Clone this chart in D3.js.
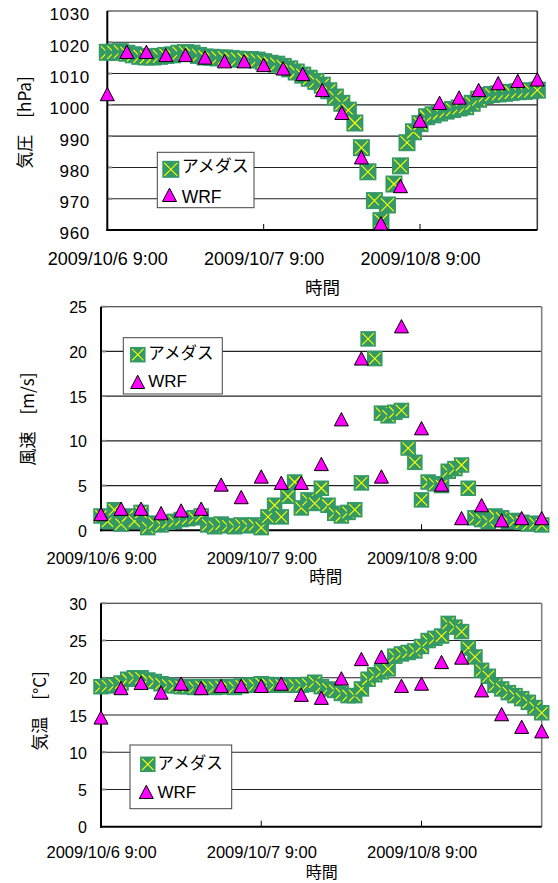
<!DOCTYPE html>
<html>
<head>
<meta charset="utf-8">
<script src="https://cdn.jsdelivr.net/npm/d3@7/dist/d3.min.js"></script>
<style>
body { margin:0; background:#fff; }
svg text { font-family:"Liberation Sans", Arial, sans-serif; fill:#000; }
svg text.jp { font-family:"Noto Sans CJK JP", sans-serif; }
</style>
</head>
<body>
<script>
// hours from 2009/10/6 9:00
var amedasHours = [0,1,2,3,4,5,6,7,8,9,10,11,12,13,14,15,16,17,18,19,20,21,22,23,24,25,26,27,28,29,30,31,32,33,
	34,35,36,37,38,39,40,41,42,43,44,45,46,47,48,49,50,51,52,53,54,55,56,57,58,59,60,61,62,63,64,65,66];
var wrfHours = [0,3,6,9,12,15,18,21,24,27,30,33,36,39,42,45,48,51,54,57,60,63,66];

var xTickHours = [0,24,48];
var xTickLabels = ['2009/10/6 9:00','2009/10/7 9:00','2009/10/8 9:00'];

var pressTicks = [960,970,980,990,1000,1010,1020,1030];
var windTicks = [0,5,10,15,20,25];
var tempTicks = [0,5,10,15,20,25,30];

var pressAmedas = [1016.8,1016.8,1017.0,1016.5,1016.0,1015.5,1015.3,1015.3,1015.5,1015.8,
	1016.0,1016.5,1016.7,1016.5,1015.8,1015.3,1015.2,1015.0,1015.0,1014.8,
	1014.6,1014.5,1014.5,1014.3,1013.8,1013.3,1013.0,1012.3,1011.5,1010.5,
	1009.5,1008.5,1007.5,1006.3,1004.5,1002.5,1000.5,998.3,994.2,986.3,
	978.6,969.4,963.0,968.0,974.7,980.5,987.9,991.4,994.0,996.2,
	996.8,997.4,998.0,998.5,999.0,999.4,1000.5,1001.8,1003.0,1003.3,
	1003.5,1003.7,1004.0,1004.2,1004.3,1004.5,1004.7];
var pressWrf = [1003.4,1016.9,1016.9,1015.9,1015.9,1015.1,1013.9,1013.9,1012.7,1011.6,1009.8,1004.7,
	997.4,983.2,962.1,974.0,994.9,1000.6,1002.3,1004.7,1006.9,1007.6,1008.1];

var windAmedas = [1.6,1.0,2.3,0.7,1.6,1.0,2.0,0.3,0.8,0.6,
	0.9,1.0,1.2,1.3,1.4,1.6,0.6,0.4,0.7,0.5,
	0.4,0.6,0.5,0.6,0.3,1.5,2.8,1.5,3.8,5.4,
	2.5,3.4,3.0,4.7,2.8,1.9,1.6,2.0,2.3,5.3,
	21.4,19.2,13.1,12.8,13.2,13.4,9.2,7.6,3.4,5.4,
	5.2,5.0,6.6,6.9,7.3,4.7,1.4,1.2,1.0,1.6,
	1.4,1.0,1.1,0.9,0.7,0.8,0.6];
var windWrf = [1.8,2.4,2.4,1.9,2.2,2.4,5.1,3.7,6.0,5.3,5.3,7.4,12.4,19.2,6.0,22.8,11.4,5.1,1.35,2.8,1.1,1.35,1.35];

var tempAmedas = [18.8,18.9,19.0,19.3,19.8,20.0,20.0,19.7,19.5,19.2,
	19.0,18.9,18.8,18.8,18.7,18.8,18.8,18.7,18.8,18.8,
	18.7,18.9,19.0,19.0,19.2,19.1,19.0,19.0,19.0,19.0,
	19.0,19.1,19.4,18.8,18.5,18.3,17.9,17.6,17.6,18.5,
	19.8,20.4,20.8,21.2,22.9,23.2,23.4,23.6,24.2,25.0,
	25.3,25.6,27.3,26.8,26.2,24.0,22.8,21.0,20.2,19.0,
	18.5,18.0,17.6,17.2,16.7,16.0,15.3];
var tempWrf = [14.65,18.6,19.3,18.0,19.2,18.6,18.9,18.9,18.9,19.2,17.7,17.3,19.9,22.5,22.8,18.9,19.2,22.1,22.7,18.3,15.1,13.4,12.8];

var GREEN = '#339966', YELLOW = '#ffff00', MAGENTA = '#ff00ff';

var svg = d3.select('body').append('svg')
	.attr('width', 558)
	.attr('height', 883);

var panels = [
	{ left:107.3, right:537.3, top:11, bottom:230, domain:[960,1030], ticks:pressTicks,
	  amedas:pressAmedas, wrf:pressWrf, yLabel:'気圧　[hPa]', yLabelX:25, yLabelY:122.5,
	  tickFont:17, tickSpacing:0.7, tickDy:3, tickRight:90, xFont:18, xLabelY:259,
	  timeX:322.5, timeY:287.5, timeFont:17.5, sq:17, rightColor:'#404040',
	  legend:{x:157.3, y:152.3, w:96.7, h:55.4, mx:170.8, my:169.3, tx:181.7, t1:166.5, tyx:169.5, tyy:195, t2:196.5, font:17} },
	{ left:101, right:541.7, top:306.7, bottom:530.3, domain:[0,25], ticks:windTicks,
	  amedas:windAmedas, wrf:windWrf, yLabel:'風速　[m/s]', yLabelX:28, yLabelY:419,
	  tickFont:16, tickSpacing:0, tickDy:0.5, tickRight:87, xFont:16.5, xLabelY:558.5,
	  timeX:325.8, timeY:577.5, timeFont:16.5, sq:15.5, rightColor:'#808080',
	  legend:{x:123.3, y:337.7, w:99, h:56.3, mx:137.8, my:354.7, tx:148.3, t1:353.5, tyx:137.7, tyy:382, t2:381.5, font:16.5} },
	{ left:101, right:541.7, top:603.3, bottom:826.7, domain:[0,30], ticks:tempTicks,
	  amedas:tempAmedas, wrf:tempWrf, yLabel:'気温　[°C]', yLabelX:40, yLabelY:711,
	  tickFont:16, tickSpacing:0, tickDy:0.5, tickRight:87, xFont:16.5, xLabelY:852.5,
	  timeX:321.7, timeY:872.5, timeFont:16, sq:15.5, rightColor:'#808080',
	  legend:{x:130, y:745, w:101.7, h:63.7, mx:147.8, my:764.3, tx:157.5, t1:763.5, tyx:146.3, tyy:792, t2:792, font:16.5} }
];

function xMark(k) {
	return 'M' + (-k) + ',' + (-k) + 'L' + k + ',' + k + 'M' + (-k) + ',' + k + 'L' + k + ',' + (-k);
}
var triPath = 'M0,-6.8L7,6.5L-7,6.5Z';

panels.forEach(function(p) {
	var x = d3.scaleLinear().domain([0, 66]).range([p.left, p.right]);
	var y = d3.scaleLinear().domain(p.domain).range([p.bottom, p.top]);
	var g = svg.append('g');

	// gridlines
	g.selectAll('.grid')
		.data(p.ticks.slice(1))
		.enter().append('line')
		.attr('class', 'grid')
		.attr('x1', p.left).attr('x2', p.right)
		.attr('y1', function(d) { return y(d); })
		.attr('y2', function(d) { return y(d); })
		.style('stroke', '#222')
		.style('stroke-width', 1.1);

	// small inside ticks on y axis
	g.selectAll('.ytick')
		.data(p.ticks.slice(1))
		.enter().append('line')
		.attr('x1', p.left).attr('x2', p.left + 5)
		.attr('y1', function(d) { return y(d); })
		.attr('y2', function(d) { return y(d); })
		.style('stroke', '#888')
		.style('stroke-width', 2);

	// right border
	g.append('line')
		.attr('x1', p.right).attr('x2', p.right)
		.attr('y1', p.top).attr('y2', p.bottom)
		.style('stroke', p.rightColor)
		.style('stroke-width', 1.6);

	// x tick marks (inside)
	g.selectAll('.xtick')
		.data(xTickHours.slice(1))
		.enter().append('line')
		.attr('x1', function(d) { return x(d); })
		.attr('x2', function(d) { return x(d); })
		.attr('y1', p.bottom).attr('y2', p.bottom - 6)
		.style('stroke', '#000')
		.style('stroke-width', 1);

	// y axis labels
	var yAxis = g.append('g')
		.attr('transform', 'translate(' + p.tickRight + ',' + p.tickDy + ')')
		.call(d3.axisLeft(y).tickValues(p.ticks).tickSize(0).tickPadding(0).tickFormat(d3.format('d')));
	yAxis.select('.domain').remove();
	yAxis.selectAll('text')
		.attr('dy', '0.35em')
		.style('font-size', p.tickFont + 'px')
		.style('letter-spacing', p.tickSpacing + 'px')
		.style('font-family', '"Liberation Sans", Arial, sans-serif')
		.style('fill', '#000');

	// x axis labels
	var xAxis = g.append('g')
		.attr('transform', 'translate(0,' + p.xLabelY + ')')
		.call(d3.axisBottom(x).tickValues(xTickHours).tickSize(0).tickPadding(0)
			.tickFormat(function(d, i) { return xTickLabels[i]; }));
	xAxis.select('.domain').remove();
	xAxis.selectAll('text')
		.attr('y', 0)
		.attr('dy', '0.35em')
		.style('font-size', p.xFont + 'px')
		.style('font-family', '"Liberation Sans", Arial, sans-serif')
		.style('fill', '#000');

	// axis lines
	g.append('line')
		.attr('x1', p.left).attr('x2', p.left)
		.attr('y1', p.top).attr('y2', p.bottom + 1)
		.style('stroke', '#000').style('stroke-width', 2);
	g.append('line')
		.attr('x1', p.left - 1).attr('x2', p.right)
		.attr('y1', p.bottom).attr('y2', p.bottom)
		.style('stroke', '#000').style('stroke-width', 2);

	// titles
	g.append('text')
		.attr('class', 'jp')
		.attr('transform', 'translate(' + p.yLabelX + ',' + p.yLabelY + ') rotate(-90)')
		.attr('text-anchor', 'middle')
		.attr('dy', '0.35em')
		.style('font-size', '17px')
		.text(p.yLabel);
	g.append('text')
		.attr('class', 'jp')
		.attr('x', p.timeX).attr('y', p.timeY)
		.attr('text-anchor', 'middle')
		.attr('dy', '0.35em')
		.style('font-size', p.timeFont + 'px')
		.text('時間');

	// AMeDAS: green square with yellow x, drawn in order
	var half = p.sq / 2;
	var am = g.selectAll('.am')
		.data(p.amedas)
		.enter().append('g')
		.attr('class', 'am')
		.attr('transform', function(d, i) { return 'translate(' + x(amedasHours[i]) + ',' + y(d) + ')'; });
	am.append('rect')
		.attr('x', -half).attr('y', -half)
		.attr('width', p.sq).attr('height', p.sq)
		.style('fill', GREEN);
	am.append('path')
		.attr('d', xMark(half - 2))
		.style('stroke', YELLOW)
		.style('stroke-width', 1.1)
		.style('fill', 'none');

	// WRF triangles
	g.selectAll('.wrf')
		.data(p.wrf)
		.enter().append('path')
		.attr('class', 'wrf')
		.attr('transform', function(d, i) { return 'translate(' + x(wrfHours[i]) + ',' + y(d) + ')'; })
		.attr('d', triPath)
		.style('fill', MAGENTA)
		.style('stroke', '#000')
		.style('stroke-width', 1);

	// legend
	var L = p.legend;
	var lg = g.append('g');
	lg.append('rect')
		.attr('x', L.x).attr('y', L.y)
		.attr('width', L.w).attr('height', L.h)
		.style('fill', '#fff')
		.style('stroke', '#444')
		.style('stroke-width', 1);
	var lm = lg.append('g').attr('transform', 'translate(' + L.mx + ',' + L.my + ')');
	lm.append('rect')
		.attr('x', -half).attr('y', -half)
		.attr('width', p.sq).attr('height', p.sq)
		.style('fill', GREEN);
	lm.append('path')
		.attr('d', xMark(half - 2))
		.style('stroke', YELLOW)
		.style('stroke-width', 1.1);
	lg.append('text')
		.attr('class', 'jp')
		.attr('x', L.tx).attr('y', L.t1)
		.attr('dy', '0.35em')
		.style('font-size', L.font + 'px')
		.text('アメダス');
	lg.append('path')
		.attr('transform', 'translate(' + L.tyx + ',' + L.tyy + ')')
		.attr('d', triPath)
		.style('fill', MAGENTA)
		.style('stroke', '#000')
		.style('stroke-width', 1);
	lg.append('text')
		.attr('x', L.tx).attr('y', L.t2)
		.attr('dy', '0.35em')
		.style('font-size', (L.font + 0.5) + 'px')
		.text('WRF');
});
</script>
</body>
</html>
